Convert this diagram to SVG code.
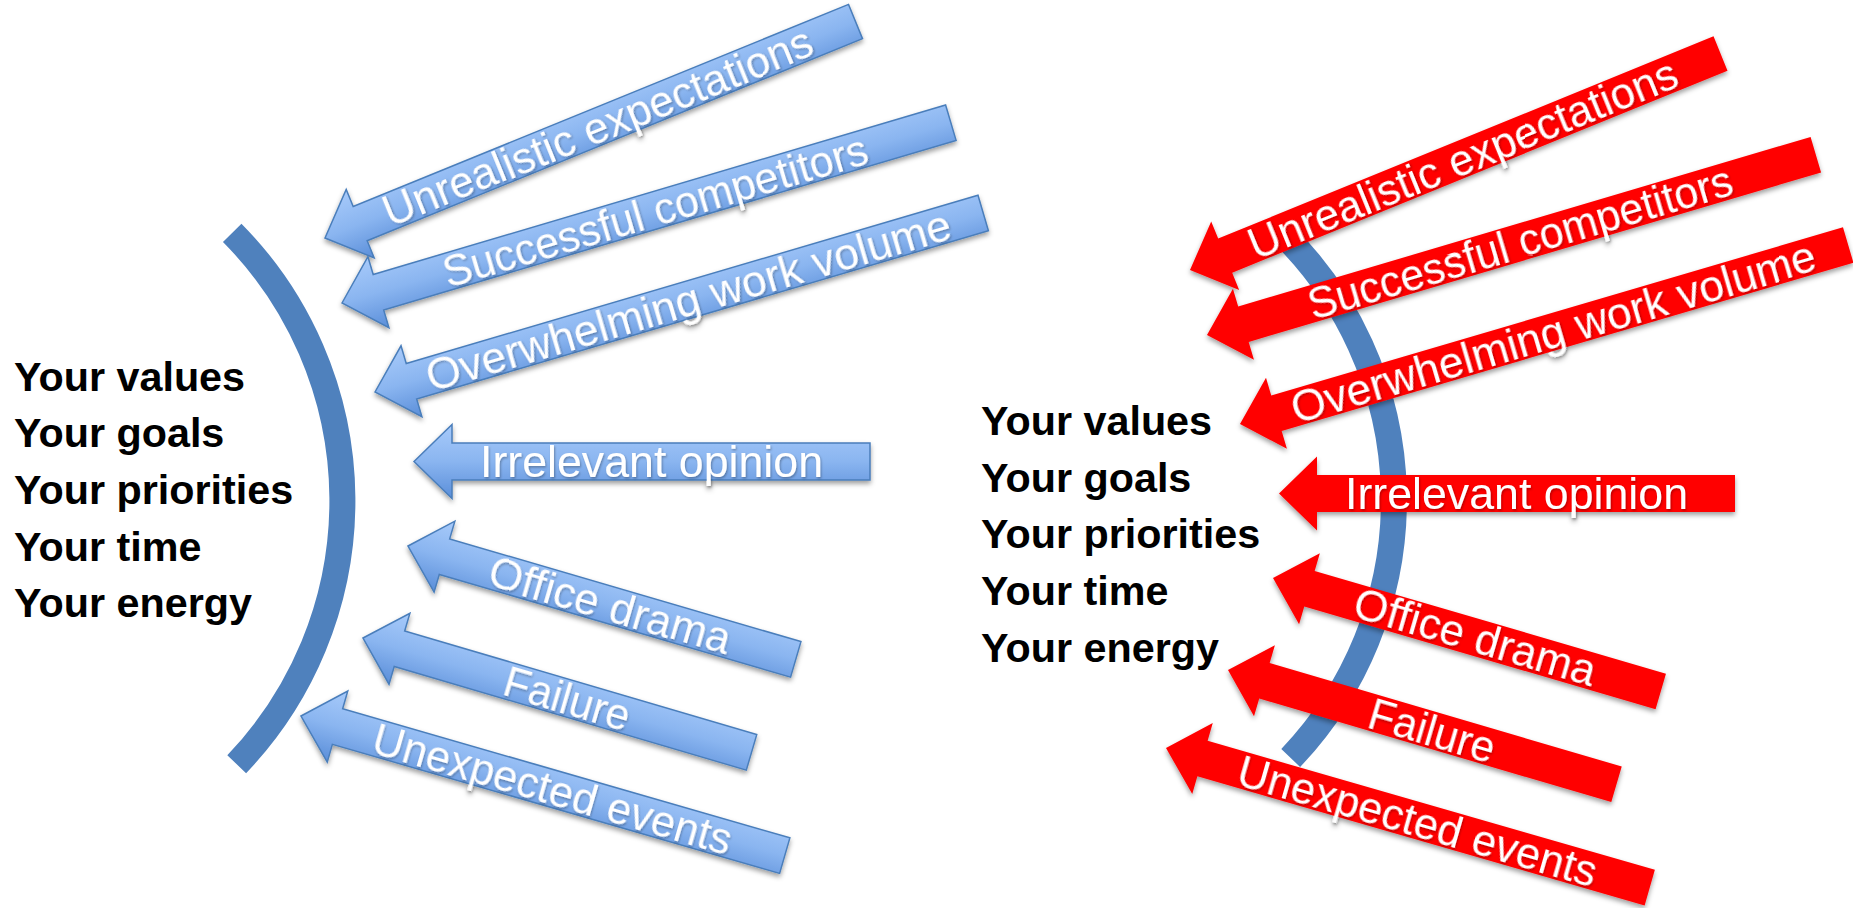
<svg xmlns="http://www.w3.org/2000/svg" width="1853" height="908" viewBox="0 0 1853 908">
<style>
.arc{fill:none;stroke:#4F81BD;stroke-width:26}
.bl{fill:url(#bg);stroke:#4A7EBB;stroke-width:1.5;stroke-linejoin:miter}
.rd{fill:#FF0000}
.lbl{font-family:"Liberation Sans",Arial,sans-serif;font-size:45px;fill:#FFFFFF;text-anchor:middle;filter:url(#ts)}
.val{font-family:"Liberation Sans",Arial,sans-serif;font-weight:bold;font-size:41.3px;fill:#000000}
.sh{filter:url(#ds)}
</style>
<defs>
<linearGradient id="bg" x1="0" y1="0" x2="0" y2="1">
<stop offset="0" stop-color="#A7CAFA"/>
<stop offset="0.5" stop-color="#8AB5F0"/>
<stop offset="1" stop-color="#5A8ED9"/>
</linearGradient>
<filter id="ds" x="-10%" y="-20%" width="120%" height="150%">
<feDropShadow dx="0" dy="3" stdDeviation="2.5" flood-color="#000000" flood-opacity="0.38"/>
</filter>
<filter id="ts" x="-5%" y="-20%" width="110%" height="150%">
<feDropShadow dx="1" dy="1.5" stdDeviation="1" flood-color="#000000" flood-opacity="0.3"/>
</filter>
</defs>
<rect width="1853" height="908" fill="#FFFFFF"/>

<g id="left-shield"><path class="arc" d="M232.2 232.8 A381 381 0 0 1 236.7 764.2"/></g>
<g id="right-shield"><path class="arc" d="M1279.8 231 A374 374 0 0 1 1290.7 758"/></g>

<g id="left-list">
<text class="val" x="14" y="390.7">Your values</text>
<text class="val" x="14" y="447.3">Your goals</text>
<text class="val" x="14" y="504">Your priorities</text>
<text class="val" x="14" y="560.7">Your time</text>
<text class="val" x="14" y="617.3">Your energy</text>
</g>
<g id="right-list">
<text class="val" x="981" y="435">Your values</text>
<text class="val" x="981" y="491.7">Your goals</text>
<text class="val" x="981" y="548.3">Your priorities</text>
<text class="val" x="981" y="605">Your time</text>
<text class="val" x="981" y="661.7">Your energy</text>
</g>

<g id="blue-arrows">
<g id="b-unrealistic" class="sh"><g transform="translate(325 238) rotate(-22.2)">
<path class="bl" d="M0 0 L38 -37 L38 -18.5 L573 -18.5 L573 18.5 L38 18.5 L38 37 Z"/>
<text class="lbl" x="294.5" y="15.5" textLength="460" lengthAdjust="spacingAndGlyphs">Unrealistic expectations</text></g></g>
<g id="b-successful" class="sh"><g transform="translate(342 303) rotate(-16.5)">
<path class="bl" d="M0 0 L38 -37 L38 -18.5 L635 -18.5 L635 18.5 L38 18.5 L38 37 Z"/>
<text class="lbl" x="326.4" y="15.5" textLength="441" lengthAdjust="spacingAndGlyphs">Successful competitors</text></g></g>
<g id="b-overwhelming" class="sh"><g transform="translate(375 392) rotate(-16.4)">
<path class="bl" d="M0 0 L38 -37 L38 -18.5 L634 -18.5 L634 18.5 L38 18.5 L38 37 Z"/>
<text class="lbl" x="326.5" y="15.5" textLength="545" lengthAdjust="spacingAndGlyphs">Overwhelming work volume</text></g></g>
<g id="b-irrelevant" class="sh"><g transform="translate(414 461.5)">
<path class="bl" d="M0 0 L38 -37 L38 -18.5 L456 -18.5 L456 18.5 L38 18.5 L38 37 Z"/>
<text class="lbl" x="237.5" y="15.5" textLength="343" lengthAdjust="spacingAndGlyphs">Irrelevant opinion</text></g></g>
<g id="b-office" class="sh"><g transform="translate(408 546) rotate(16.3)">
<path class="bl" d="M0 0 L38 -37 L38 -18.5 L404 -18.5 L404 18.5 L38 18.5 L38 37 Z"/>
<text class="lbl" x="210.6" y="15.5" textLength="250" lengthAdjust="spacingAndGlyphs">Office drama</text></g></g>
<g id="b-failure" class="sh"><g transform="translate(363 638) rotate(16.4)">
<path class="bl" d="M0 0 L38 -37 L38 -18.5 L405 -18.5 L405 18.5 L38 18.5 L38 37 Z"/>
<text class="lbl" x="213" y="15.5" textLength="130" lengthAdjust="spacingAndGlyphs">Failure</text></g></g>
<g id="b-unexpected" class="sh"><g transform="translate(301 716) rotate(16.1)">
<path class="bl" d="M0 0 L38 -37 L38 -18.5 L503.5 -18.5 L503.5 18.5 L38 18.5 L38 37 Z"/>
<text class="lbl" x="262" y="15.5" textLength="372" lengthAdjust="spacingAndGlyphs">Unexpected events</text></g></g>
</g>

<g id="red-arrows">
<g id="r-unrealistic" class="sh"><g transform="translate(1190 270) rotate(-22.2)">
<path class="rd" d="M0 0 L38 -37 L38 -18.5 L573 -18.5 L573 18.5 L38 18.5 L38 37 Z"/>
<text class="lbl" x="294.5" y="15.5" textLength="460" lengthAdjust="spacingAndGlyphs">Unrealistic expectations</text></g></g>
<g id="r-successful" class="sh"><g transform="translate(1207 335) rotate(-16.5)">
<path class="rd" d="M0 0 L38 -37 L38 -18.5 L635 -18.5 L635 18.5 L38 18.5 L38 37 Z"/>
<text class="lbl" x="326.4" y="15.5" textLength="441" lengthAdjust="spacingAndGlyphs">Successful competitors</text></g></g>
<g id="r-overwhelming" class="sh"><g transform="translate(1240 424) rotate(-16.4)">
<path class="rd" d="M0 0 L38 -37 L38 -18.5 L634 -18.5 L634 18.5 L38 18.5 L38 37 Z"/>
<text class="lbl" x="326.5" y="15.5" textLength="545" lengthAdjust="spacingAndGlyphs">Overwhelming work volume</text></g></g>
<g id="r-irrelevant" class="sh"><g transform="translate(1279 493.5)">
<path class="rd" d="M0 0 L38 -37 L38 -18.5 L456 -18.5 L456 18.5 L38 18.5 L38 37 Z"/>
<text class="lbl" x="237.5" y="15.5" textLength="343" lengthAdjust="spacingAndGlyphs">Irrelevant opinion</text></g></g>
<g id="r-office" class="sh"><g transform="translate(1273 578) rotate(16.3)">
<path class="rd" d="M0 0 L38 -37 L38 -18.5 L404 -18.5 L404 18.5 L38 18.5 L38 37 Z"/>
<text class="lbl" x="210.6" y="15.5" textLength="250" lengthAdjust="spacingAndGlyphs">Office drama</text></g></g>
<g id="r-failure" class="sh"><g transform="translate(1228 670) rotate(16.4)">
<path class="rd" d="M0 0 L38 -37 L38 -18.5 L405 -18.5 L405 18.5 L38 18.5 L38 37 Z"/>
<text class="lbl" x="213" y="15.5" textLength="130" lengthAdjust="spacingAndGlyphs">Failure</text></g></g>
<g id="r-unexpected" class="sh"><g transform="translate(1166 748) rotate(16.1)">
<path class="rd" d="M0 0 L38 -37 L38 -18.5 L503.5 -18.5 L503.5 18.5 L38 18.5 L38 37 Z"/>
<text class="lbl" x="262" y="15.5" textLength="372" lengthAdjust="spacingAndGlyphs">Unexpected events</text></g></g>
</g>
</svg>
